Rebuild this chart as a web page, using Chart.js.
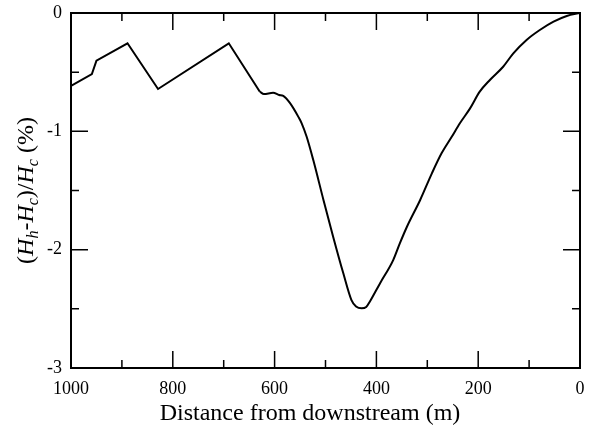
<!DOCTYPE html>
<html>
<head>
<meta charset="utf-8">
<script src="https://cdn.jsdelivr.net/npm/chart.js@4"></script>
<style>
  html, body { margin: 0; padding: 0; background: #fff; }
  #wrap { width: 589px; height: 426px; }
</style>
</head>
<body>
<div id="wrap"><canvas id="c" width="589" height="426"></canvas></div>
<script>
// Distance from the downstream end (m)
const distance = [
  1000, 959, 950, 889, 829, 690, 629, 621, 603, 591, 583, 570, 553, 547, 537,
  524, 504, 485, 465, 449, 440, 429, 420, 413, 393, 367, 354, 340, 314, 291,
  272, 252, 236, 216, 197, 177, 151, 131, 105, 79, 52, 26, 0
];
// Relative head difference (Hh - Hc)/Hc in percent
const deviation = [
  -0.615, -0.516, -0.403, -0.256, -0.642, -0.256, -0.665, -0.685, -0.674, -0.693,
  -0.700, -0.760, -0.880, -0.930, -1.046, -1.243, -1.580, -1.890, -2.200, -2.426,
  -2.480, -2.496, -2.485, -2.440, -2.285, -2.088, -1.947, -1.806, -1.580, -1.355,
  -1.186, -1.046, -0.932, -0.806, -0.665, -0.566, -0.454, -0.341, -0.228, -0.144,
  -0.073, -0.025, 0
];
const xTickLabels = [1000, 800, 600, 400, 200, 0];
const xMinorTicks = [900, 700, 500, 300, 100];
const yTickLabels = [0, -1, -2, -3];
const yMinorTicks = [-0.5, -1.5, -2.5];
const xTitle = 'Distance from downstream (m)';

// The upstream reach is drawn as straight segments, the rest as a smooth curve
const smoothFrom = 6;

const SERIF = "'Liberation Serif', 'DejaVu Serif', serif";

// Frame with inward major/minor ticks on all four sides
const framePlugin = {
  id: 'frame',
  afterDraw(chart) {
    const { ctx, chartArea: a, scales } = chart;
    const xs = scales.x, ys = scales.y;
    ctx.save();
    ctx.strokeStyle = '#000';
    ctx.lineWidth = 1.5;
    const tick = (vals, len, horiz) => {
      vals.forEach(v => {
        ctx.beginPath();
        if (horiz) {
          const px = xs.getPixelForValue(v);
          ctx.moveTo(px, a.bottom); ctx.lineTo(px, a.bottom - len);
          ctx.moveTo(px, a.top); ctx.lineTo(px, a.top + len);
        } else {
          const py = ys.getPixelForValue(v);
          ctx.moveTo(a.left, py); ctx.lineTo(a.left + len, py);
          ctx.moveTo(a.right, py); ctx.lineTo(a.right - len, py);
        }
        ctx.stroke();
      });
    };
    tick(xTickLabels, 17, true);
    tick(xMinorTicks, 8, true);
    tick(yTickLabels, 17, false);
    tick(yMinorTicks, 8, false);
    ctx.lineWidth = 2;
    ctx.strokeRect(a.left, a.top, a.right - a.left, a.bottom - a.top);
    ctx.restore();
  }
};

// Axis titles; the y title uses italic symbols with subscripts
const titlePlugin = {
  id: 'titles',
  afterDraw(chart) {
    const { ctx, chartArea: a } = chart;
    ctx.save();
    ctx.fillStyle = '#000';
    ctx.textBaseline = 'alphabetic';
    ctx.font = '24px ' + SERIF;
    ctx.textAlign = 'center';
    ctx.fillText(xTitle, 310, 420);

    const parts = [
      { t: '(', f: '24px ' + SERIF, dy: 0 },
      { t: 'H', f: 'italic 24px ' + SERIF, dy: 0 },
      { t: 'h', f: 'italic 16px ' + SERIF, dy: 5 },
      { t: '-', f: '24px ' + SERIF, dy: 0 },
      { t: 'H', f: 'italic 24px ' + SERIF, dy: 0 },
      { t: 'c', f: 'italic 16px ' + SERIF, dy: 5 },
      { t: ')/', f: '24px ' + SERIF, dy: 0 },
      { t: 'H', f: 'italic 24px ' + SERIF, dy: 0 },
      { t: 'c', f: 'italic 16px ' + SERIF, dy: 5 },
      { t: ' (%)', f: '24px ' + SERIF, dy: 0 }
    ];
    ctx.textAlign = 'left';
    let total = 0;
    parts.forEach(p => { ctx.font = p.f; p.w = ctx.measureText(p.t).width; total += p.w; });
    ctx.translate(33, (a.top + a.bottom) / 2);
    ctx.rotate(-Math.PI / 2);
    let x = -total / 2;
    parts.forEach(p => { ctx.font = p.f; ctx.fillText(p.t, x, p.dy); x += p.w; });
    ctx.restore();
  }
};

const noScalePadding = s => {
  s.paddingTop = 0; s.paddingBottom = 0; s.paddingLeft = 0; s.paddingRight = 0;
};

const points = distance.map((d, i) => ({ x: d, y: deviation[i] }));
const lineStyle = { borderColor: '#000', borderWidth: 2, pointRadius: 0, fill: false };

new Chart(document.getElementById('c'), {
  type: 'line',
  data: {
    datasets: [
      Object.assign({ data: points.slice(0, smoothFrom + 1), tension: 0 }, lineStyle),
      Object.assign({ data: points.slice(smoothFrom), cubicInterpolationMode: 'monotone' }, lineStyle)
    ]
  },
  options: {
    responsive: false,
    animation: false,
    devicePixelRatio: 1,
    layout: { padding: { top: 13, right: 9, left: 0, bottom: 0 } },
    plugins: { legend: { display: false }, tooltip: { enabled: false } },
    scales: {
      x: {
        type: 'linear', reverse: true, min: 0, max: 1000,
        afterBuildTicks: s => { s.ticks = xTickLabels.map(v => ({ value: v })); },
        afterFit: s => { s.height = 58; noScalePadding(s); },
        grid: { display: false, drawTicks: false },
        border: { display: false },
        ticks: {
          color: '#000', padding: 10, maxRotation: 0,
          font: { family: SERIF, size: 18 },
          callback: v => String(v)
        }
      },
      y: {
        type: 'linear', min: -3, max: 0,
        afterBuildTicks: s => { s.ticks = yTickLabels.map(v => ({ value: v })); },
        afterFit: s => { s.width = 71; noScalePadding(s); },
        grid: { display: false, drawTicks: false },
        border: { display: false },
        ticks: {
          color: '#000', padding: 9,
          font: { family: SERIF, size: 18 },
          callback: v => String(v)
        }
      }
    }
  },
  plugins: [framePlugin, titlePlugin]
});
</script>
</body>
</html>
